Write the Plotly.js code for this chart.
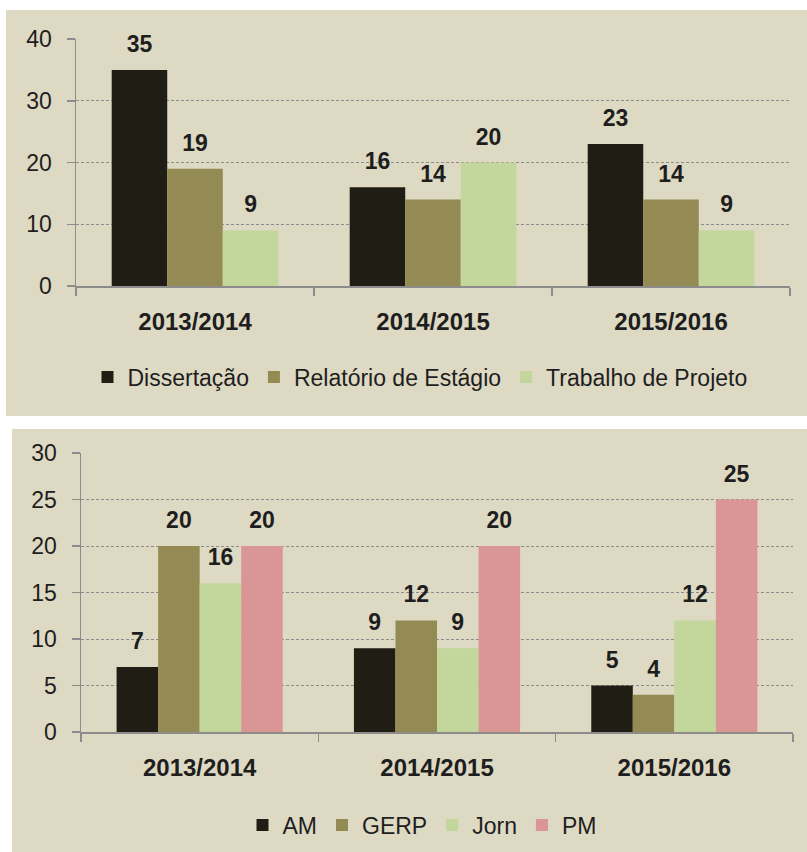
<!DOCTYPE html>
<html>
<head>
<meta charset="utf-8">
<script src="https://cdn.plot.ly/plotly-3.0.1.min.js"></script>
<style>html,body{margin:0;padding:0;background:#fff;}#chart{width:807px;height:852px;}</style>
</head>
<body>
<div id="chart"></div>
<script>
// ---- data ----
const categories = ['2013/2014', '2014/2015', '2015/2016'];

const topNames = ['Dissertação', 'Relatório de Estágio', 'Trabalho de Projeto'];
const dissertacao = [35, 16, 23];
const relatorioEstagio = [19, 14, 14];
const trabalhoProjeto = [9, 20, 9];

const bottomNames = ['AM', 'GERP', 'Jorn', 'PM'];
const am = [7, 9, 5];
const gerp = [20, 12, 4];
const jorn = [16, 9, 12];
const pm = [20, 20, 25];

const topTicks = [0, 10, 20, 30, 40];
const bottomTicks = [0, 5, 10, 15, 20, 25, 30];

// ---- styles ----
const W = 807, H = 852;
const FONT = 'Liberation Sans, Arial, sans-serif';
const TXT = '#1e1e1e';
const AXC = '#8c8c8c';
const BG = '#DDD9C3';
const topColors = ['#201E14', '#948A54', '#C3D69B'];
const bottomColors = ['#201E14', '#948A54', '#C3D69B', '#D99694'];

const topValues = [dissertacao, relatorioEstagio, trabalhoProjeto];
const bottomValues = [am, gerp, jorn, pm];

const traces = [];
function addSeries(names, values, colors, xa, ya, legend) {
  names.forEach((n, i) => {
    traces.push({
      type: 'bar', name: n, x: categories, y: values[i],
      xaxis: xa, yaxis: ya, legend: legend,
      marker: {color: colors[i], line: {width: 0}},
      hoverinfo: 'skip'
    });
  });
  names.forEach((n, i) => {
    traces.push({
      type: 'scatter', mode: 'markers+text', x: categories, y: values[i],
      xaxis: xa, yaxis: ya, showlegend: false,
      marker: {size: 18, opacity: 0},
      text: values[i].map(String), textposition: 'top center',
      textfont: {family: FONT, size: 23, weight: 'bold', color: TXT},
      cliponaxis: false, hoverinfo: 'skip'
    });
  });
}
addSeries(topNames, topValues, topColors, 'x', 'y', 'legend');
addSeries(bottomNames, bottomValues, bottomColors, 'x2', 'y2', 'legend2');

function xAxis(domain, anchor) {
  return {
    domain: domain, anchor: anchor, type: 'category', range: [-0.5, 2.5],
    showline: true, linecolor: AXC, linewidth: 1.5,
    ticks: 'outside', tickson: 'boundaries', ticklen: 8, tickcolor: AXC, tickwidth: 1.5,
    tickfont: {family: FONT, size: 24, weight: 'bold', color: TXT},
    ticklabelstandoff: 14, showgrid: false, zeroline: false, fixedrange: true
  };
}
function yAxis(domain, anchor, range, ticks) {
  return {
    domain: domain, anchor: anchor, range: range, tickvals: ticks,
    showline: true, linecolor: AXC, linewidth: 1.5,
    ticks: 'outside', ticklen: 8, tickcolor: AXC, tickwidth: 1.5,
    tickfont: {family: FONT, size: 23, color: TXT},
    ticklabelstandoff: 10,
    showgrid: true, gridcolor: AXC, gridwidth: 1, griddash: '3px,2px',
    zeroline: false, fixedrange: true
  };
}

const layout = {
  width: W, height: H,
  margin: {l: 0, r: 0, t: 0, b: 0},
  paper_bgcolor: '#ffffff', plot_bgcolor: 'rgba(0,0,0,0)',
  font: {family: FONT, size: 23, color: TXT},
  barmode: 'group', bargap: 0.3,
  scattermode: 'group', scattergap: 0.3,
  xaxis: xAxis([76 / W, 790 / W], 'y'),
  yaxis: yAxis([1 - 286 / H, 1 - 39 / H], 'x', [0, 40], topTicks),
  xaxis2: xAxis([81 / W, 793 / W], 'y2'),
  yaxis2: yAxis([1 - 732 / H, 1 - 453 / H], 'x2', [0, 30], bottomTicks),
  legend: {
    orientation: 'h', x: 420 / W, xanchor: 'center', y: 1 - 377 / H, yanchor: 'middle',
    bgcolor: 'rgba(0,0,0,0)', font: {family: FONT, size: 23, color: TXT}, traceorder: 'normal'
  },
  legend2: {
    orientation: 'h', x: 422 / W, xanchor: 'center', y: 1 - 825 / H, yanchor: 'middle',
    bgcolor: 'rgba(0,0,0,0)', font: {family: FONT, size: 23, color: TXT}, traceorder: 'normal'
  },
  shapes: [
    {type: 'rect', xref: 'paper', yref: 'paper', layer: 'below',
     x0: 6 / W, x1: 1, y0: 1 - 416 / H, y1: 1 - 10 / H, fillcolor: BG, line: {width: 0}},
    {type: 'rect', xref: 'paper', yref: 'paper', layer: 'below',
     x0: 12 / W, x1: 1, y0: 0, y1: 1 - 429 / H, fillcolor: BG, line: {width: 0}}
  ],
  showlegend: true
};

Plotly.newPlot('chart', traces, layout, {displayModeBar: false, staticPlot: true});
</script>
</body>
</html>
